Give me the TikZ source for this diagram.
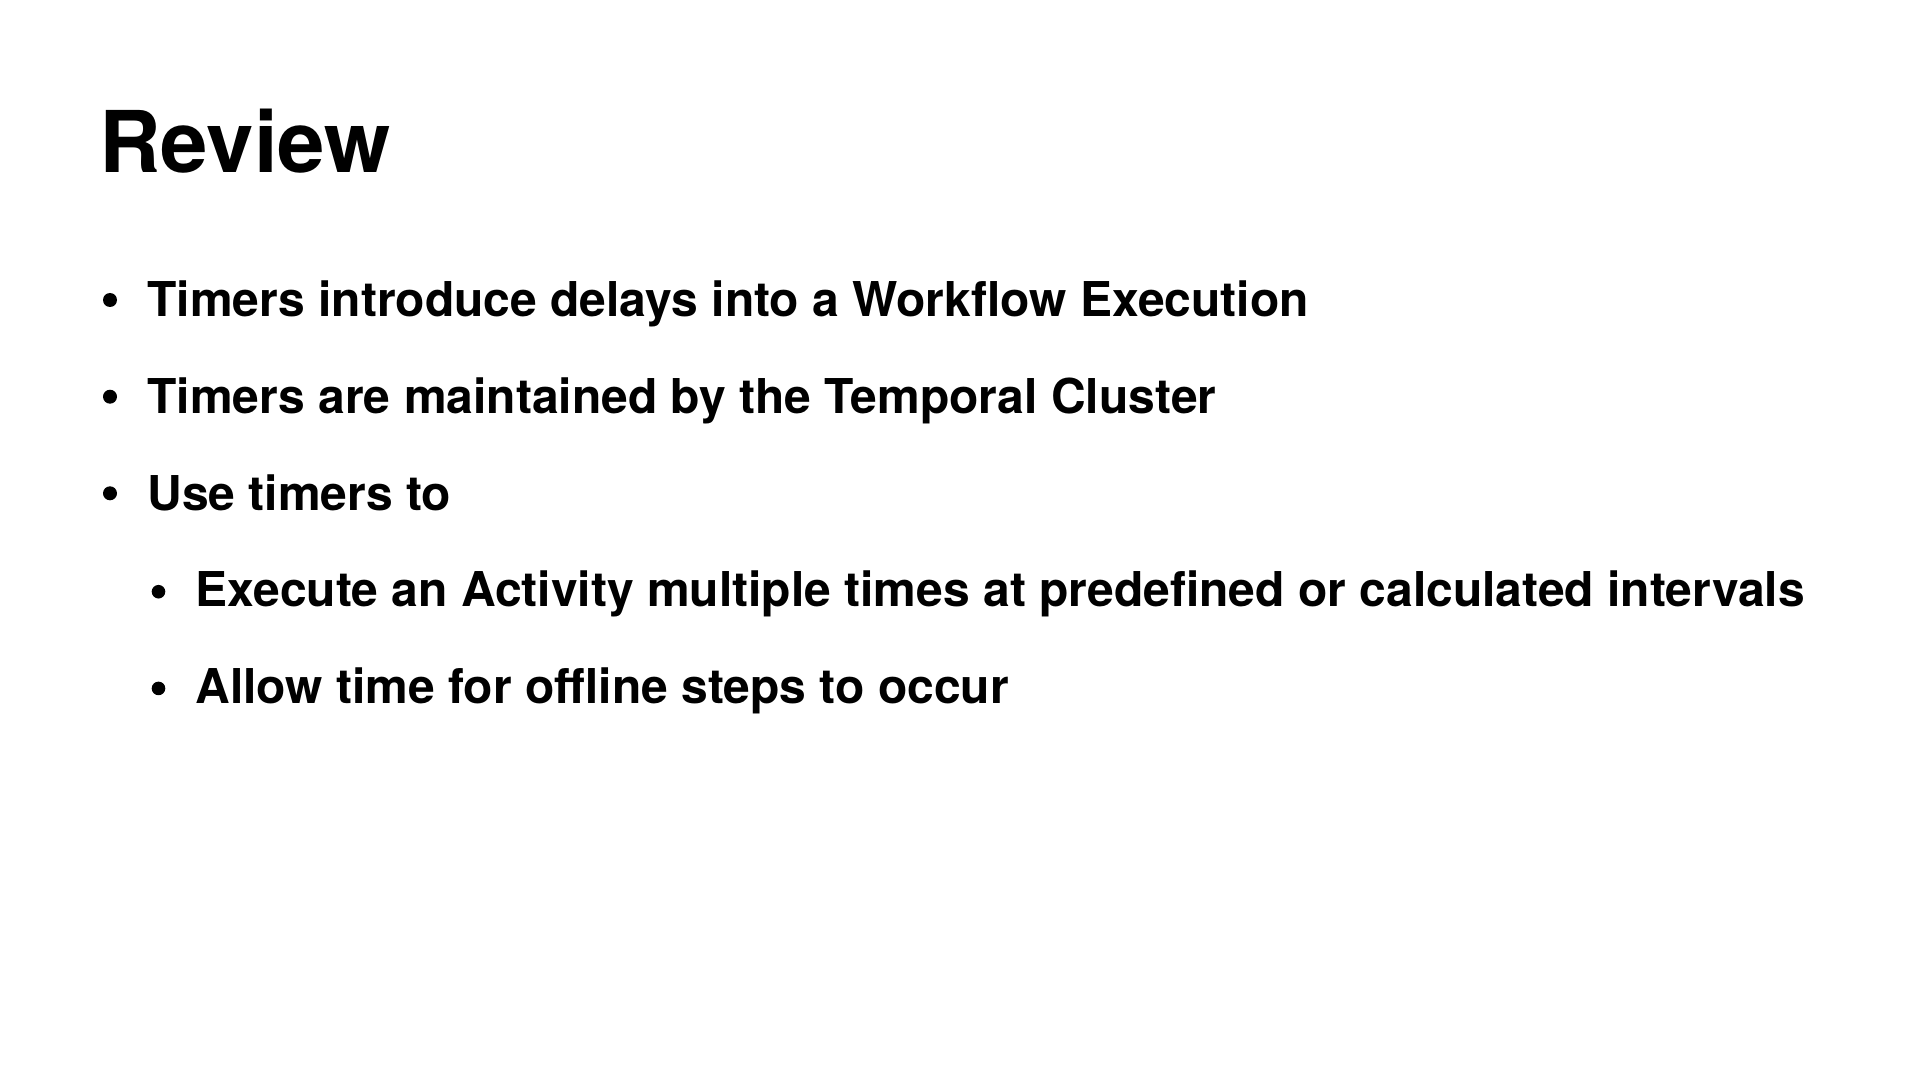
\documentclass[tikz,border=0pt]{standalone}
\usepackage{fontspec}
\setmainfont{TeX Gyre Heros}
\begin{document}
\begin{tikzpicture}[x=0.5pt,y=-0.5pt,
  title/.style={anchor=base west,inner sep=0pt,font=\bfseries\fontsize{42.6}{50}\selectfont},
  item/.style={anchor=base west,inner sep=0pt,font=\bfseries\fontsize{24.0}{29}\selectfont},
  dot/.style={circle,fill=black,inner sep=0pt,minimum size=7pt},
  subdot/.style={circle,fill=black,inner sep=0pt,minimum size=6.8pt}]
\useasboundingbox[fill=white] (0,0) rectangle (1920,1080);
\node[title] (t) at (99,173) {Review};
\node[dot] (d1) at (110,300) {};
\node[item] (i1) at (147,316.7) {Timers introduce delays into a Workflow Execution};
\node[dot] (d2) at (110,396.7) {};
\node[item] (i2) at (147,413.4) {Timers are maintained by the Temporal Cluster};
\node[dot] (d3) at (110,493.3) {};
\node[item] (i3) at (147,510) {Use timers to};
\node[subdot] (d4) at (158.5,591.7) {};
\node[item] (i4) at (195,606.7) {Execute an Activity multiple times at predefined or calculated intervals};
\node[subdot] (d5) at (158.5,688.4) {};
\node[item] (i5) at (195,703.4) {Allow time for offline steps to occur};
\end{tikzpicture}
\end{document}
